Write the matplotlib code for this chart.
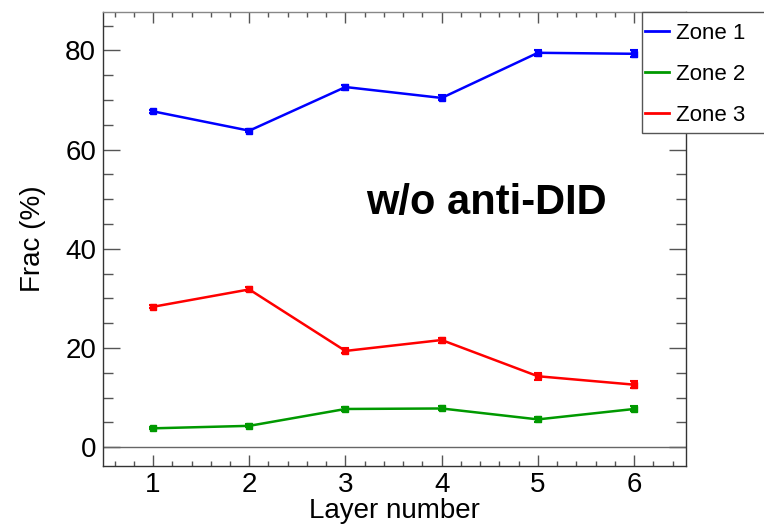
import numpy as np
import matplotlib
matplotlib.use('Agg')
import matplotlib.pyplot as plt
from matplotlib.lines import Line2D
from matplotlib.patches import Rectangle
from matplotlib.ticker import MultipleLocator

plt.rcParams['font.family'] = ['Liberation Sans', 'DejaVu Sans']

layers = [1, 2, 3, 4, 5, 6]
zone1 = [67.7, 63.8, 72.6, 70.4, 79.5, 79.3]
zone2 = [3.8, 4.3, 7.7, 7.8, 5.6, 7.7]
zone3 = [28.3, 31.8, 19.4, 21.6, 14.3, 12.6]
zone1_err = [0.3, 0.3, 0.5, 0.5, 0.6, 0.7]
zone2_err = [0.2, 0.3, 0.4, 0.4, 0.5, 0.5]
zone3_err = [0.3, 0.4, 0.5, 0.5, 0.7, 0.7]

COLORS = {
    'Zone 1': '#0000ff',
    'Zone 2': '#009900',
    'Zone 3': '#ff0000',
}

W, H = 764, 527
fig = plt.figure(figsize=(W / 100, H / 100), dpi=100)
ax = fig.add_axes([0.1348, 0.1157, 0.898 - 0.1348, 0.977 - 0.1157])

for name, vals, errs in [('Zone 1', zone1, zone1_err),
                         ('Zone 2', zone2, zone2_err),
                         ('Zone 3', zone3, zone3_err)]:
    ax.errorbar(layers, vals, yerr=errs, color=COLORS[name], lw=1.8,
                marker='s', ms=4, capsize=3, capthick=1.5, elinewidth=1.5)

ax.axhline(0, color='#666666', lw=1)

ax.set_xlim(0.48, 6.54)
ax.set_ylim(-3.8, 87.7)
ax.xaxis.set_major_locator(MultipleLocator(1))
ax.xaxis.set_minor_locator(MultipleLocator(0.2))
ax.yaxis.set_major_locator(MultipleLocator(20))
ax.yaxis.set_minor_locator(MultipleLocator(5))
ax.tick_params(which='both', direction='in', top=True, right=True,
               color='#555555', labelsize=20, width=1)
ax.tick_params(axis='y', which='major', length=12, pad=5)
ax.tick_params(axis='y', which='minor', length=7)
ax.tick_params(axis='x', which='major', length=8, pad=4)
ax.tick_params(axis='x', which='minor', length=3.6)
for sp in ax.spines.values():
    sp.set_color('#333333')
    sp.set_linewidth(1)
ax.spines['top'].set_color('#888888')

ax.set_xlabel('Layer number', fontsize=20, labelpad=0)
ax.set_ylabel('Frac (%)', fontsize=20, labelpad=14)

ax.text(0.657, 0.555, 'w/o anti-DID', transform=ax.transAxes,
        fontsize=30, fontweight='bold', ha='center', va='baseline')

# legend box runs off the right edge, so draw its frame by hand
box = Rectangle((642 / W, 1 - 133 / H), 1.0, 121 / H, transform=fig.transFigure,
                facecolor='white', edgecolor='#555555', lw=1, zorder=4)
fig.patches.append(box)

handles = [Line2D([0], [0], color=c, lw=2) for c in COLORS.values()]
leg = fig.legend(handles, list(COLORS.keys()), loc='upper left',
                 bbox_to_anchor=(636 / W, 1 - 14 / H),
                 fontsize=16, frameon=False,
                 handlelength=1.1, handletextpad=0.3, labelspacing=0.9,
                 borderpad=0.4, borderaxespad=0)
leg.set_zorder(5)

fig.savefig('out.png', dpi=100)
